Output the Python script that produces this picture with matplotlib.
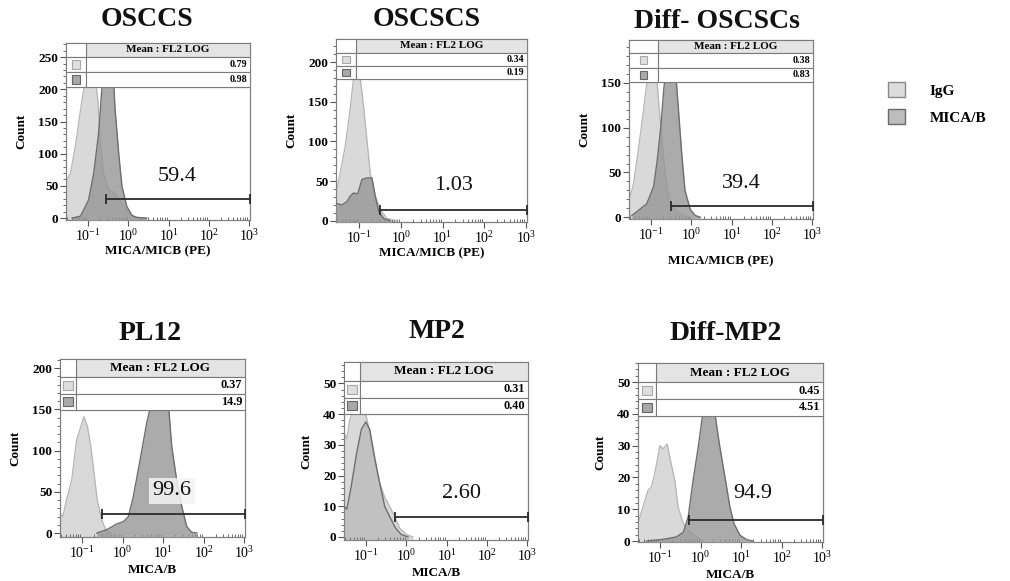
import numpy as np
import matplotlib

matplotlib.use("Agg")
import matplotlib.pyplot as plt
from matplotlib.patches import Rectangle, Patch
from matplotlib.ticker import LogLocator, LogFormatterMathtext, MultipleLocator, NullFormatter

plt.rcParams["font.family"] = ["Liberation Serif", "DejaVu Serif"]
plt.rcParams["mathtext.fontset"] = "custom"
plt.rcParams["mathtext.rm"] = "Liberation Serif:bold"
plt.rcParams["mathtext.bf"] = "Liberation Serif:bold"
plt.rcParams["mathtext.default"] = "bf"

# ---- data (x in log10 units, y = count) ----
titles = ["OSCCS", "OSCSCS", "Diff- OSCSCs", "PL12", "MP2", "Diff-MP2"]
xlabels = ["MICA/MICB (PE)"] * 3 + ["MICA/B"] * 3
mean_igg = ["0.79", "0.34", "0.38", "0.37", "0.31", "0.45"]
mean_mica = ["0.98", "0.19", "0.83", "14.9", "0.40", "4.51"]
gate_pct = ["59.4", "1.03", "39.4", "99.6", "2.60", "94.9"]
gate_start = [0.275, 0.32, 0.31, 0.30, 0.51, 0.51]
gate_level = [29.5, 14, 13, 23.4, 6.4, 6.5]

igg_log = [
    [-1.55, -1.44, -1.32, -1.19, -1.11, -1.05, -0.95, -0.82, -0.76, -0.70, -0.62, -0.49, -0.33, -0.16, 0.00, 0.17, 0.45],
    [-1.55, -1.45, -1.33, -1.21, -1.13, -1.06, -0.97, -0.89, -0.81, -0.73, -0.61, -0.49, -0.33, -0.09],
    [-1.55, -1.44, -1.32, -1.19, -1.11, -0.99, -0.85, -0.78, -0.70, -0.61, -0.53, -0.36, -0.16, -0.03],
    [-1.55, -1.48, -1.39, -1.26, -1.14, -1.06, -0.96, -0.87, -0.79, -0.71, -0.63, -0.52, -0.40, -0.27],
    [-1.55, -1.48, -1.41, -1.33, -1.20, -1.04, -0.91, -0.79, -0.66, -0.54, -0.42, -0.29, -0.17, 0.00, 0.16],
    [-1.53, -1.43, -1.30, -1.22, -1.14, -1.01, -0.93, -0.83, -0.75, -0.64, -0.56, -0.43, -0.27, -0.10, 0.06],
]
igg_count = [
    [57, 70, 111, 168, 200, 225, 260, 215, 184, 122, 70, 44, 39, 23, 8, 1, 0],
    [35, 60, 94, 141, 180, 188, 180, 144, 102, 60, 31, 14, 3, 0],
    [19, 37, 75, 119, 149, 175, 150, 112, 71, 34, 15, 6, 1, 0],
    [24, 20, 40, 65, 113, 125, 141, 129, 105, 73, 40, 16, 2, 0],
    [33.8, 32, 38, 41, 45, 42, 34, 25, 17.5, 13, 10, 6.7, 2.9, 0.8, 0],
    [6.5, 10.7, 16, 17, 21, 30, 29, 30.5, 25.5, 19, 10.7, 5.5, 2.8, 1.3, 0],
]
mica_log = [
    [-1.40, -1.19, -0.99, -0.86, -0.74, -0.66, -0.52, -0.37, -0.33, -0.24, -0.16, -0.04, 0.09, 0.21, 0.45],
    [-1.55, -1.41, -1.29, -1.21, -1.13, -1.03, -0.93, -0.81, -0.69, -0.61, -0.53, -0.41, -0.25],
    [-1.48, -1.36, -1.11, -0.94, -0.85, -0.76, -0.68, -0.56, -0.38, -0.32, -0.24, -0.16, -0.03, 0.09, 0.22],
    [-0.64, -0.40, -0.15, 0.02, 0.14, 0.26, 0.43, 0.59, 0.72, 0.88, 1.13, 1.21, 1.33, 1.46, 1.58, 1.70, 1.83],
    [-1.55, -1.48, -1.37, -1.24, -1.12, -1.01, -0.91, -0.79, -0.68, -0.54, -0.42, -0.27, -0.13, 0.04],
    [-1.34, -1.01, -0.85, -0.60, -0.43, -0.31, -0.19, -0.06, 0.05, 0.19, 0.35, 0.47, 0.60, 0.72, 0.82, 0.97, 1.14, 1.30],
]
mica_count = [
    [0, 3, 28, 70, 132, 200, 280, 215, 168, 100, 49, 18, 4, 1, 0],
    [22, 20, 24, 31, 35, 34, 52, 54, 54, 31, 12, 3, 0],
    [2, 6, 15, 34, 63, 101, 146, 180, 155, 119, 71, 30, 9, 2, 0],
    [0, 4, 11, 14, 20, 44, 89, 133, 160, 190, 155, 105, 65, 32, 8, 1, 0],
    [10, 9, 16.5, 27, 35, 37.5, 35, 26, 18.6, 10, 6.7, 2.9, 0.8, 0],
    [0, 0.4, 0.7, 1.3, 2.8, 7.6, 19, 29.7, 40, 45, 40, 29.7, 20, 10.7, 5.5, 1.8, 0.4, 0],
]

# ---- layout (pixels of the 1010x581 figure) ----
W, H = 1010, 581
# left, right, top, bottom
boxes = [(66, 250, 43, 220), (336, 527, 39, 222), (629, 813, 40, 219),
         (60, 245, 359, 537), (344, 528, 362, 540), (638, 823, 363, 542)]
ylims = [(-3, 272), (-1.5, 229), (-2, 198), (-4.8, 211), (-1, 57), (-0.3, 56)]
ystep = [50, 50, 50, 50, 10, 10]
yminor = [10, 10, 10, 10, 2, 2]
# header px, row px, swatch column px, header font, value font
tables = [(14, 15, 20, 8.0, 7.2), (14, 13, 20, 8.0, 7.2), (13, 14.5, 29, 8.0, 7.2),
          (18, 16.5, 16, 9.5, 8.8), (19, 16.5, 16, 9.5, 8.8), (19, 17, 18, 9.5, 8.8)]
title_xy = [(147, 20), (427, 20), (717, 22), (150, 333), (437, 332), (726, 333)]
label_xy = [(1.2, 65), (1.26, 45), (1.25, 38), (1.21, 51), (1.36, 14.3), (1.28, 15)]
xlabelpad = [0.5, 0.5, 9, 2, 2, 2]
mica_alpha = [0.8, 0.8, 0.8, 0.8, 0.35, 0.8]

IGG_FILL, IGG_EDGE = "#d9d9d9", "#b5b5b5"
MICA_FILL, MICA_EDGE = "#969696", "#6e6e6e"
SPINE = "#808080"
XMIN, XMAX = 10 ** -1.55, 10 ** 3.02

fig = plt.figure(figsize=(W / 100, H / 100), dpi=100)

for i in range(6):
    l, r, t, b = boxes[i]
    ax = fig.add_axes([l / W, 1 - b / H, (r - l) / W, (b - t) / H])
    axw, axh = r - l, b - t

    xi = 10 ** np.array(igg_log[i])
    xm = 10 ** np.array(mica_log[i])
    ax.fill_between(xi, igg_count[i], -10, color=IGG_FILL, lw=0, zorder=1)
    ax.plot(xi, igg_count[i], color=IGG_EDGE, lw=0.9, zorder=2)
    ax.fill_between(xm, mica_count[i], -10, color=MICA_FILL, alpha=mica_alpha[i], lw=0, zorder=3)
    ax.plot(xm, mica_count[i], color=MICA_EDGE, lw=1.0, zorder=4)

    ax.set_xscale("log")
    ax.set_xlim(XMIN, XMAX)
    ax.set_ylim(*ylims[i])
    ax.xaxis.set_major_locator(LogLocator(base=10, numticks=10))
    ax.xaxis.set_major_formatter(LogFormatterMathtext())
    ax.xaxis.set_minor_locator(LogLocator(base=10, subs=np.arange(2, 10), numticks=20))
    ax.xaxis.set_minor_formatter(NullFormatter())
    ax.yaxis.set_major_locator(MultipleLocator(ystep[i]))
    ax.yaxis.set_minor_locator(MultipleLocator(yminor[i]))
    ax.tick_params(axis="x", which="major", direction="out", length=4, width=0.8,
                   color="#555555", labelsize=10, pad=2)
    ax.tick_params(axis="x", which="minor", direction="in", length=2.5, width=0.6, color="#555555")
    ax.tick_params(axis="y", which="major", direction="out", length=4, width=0.8,
                   color="#555555", labelsize=9.5, pad=1.5)
    ax.tick_params(axis="y", which="minor", direction="out", length=2, width=0.6, color="#555555")
    for lab in ax.get_yticklabels():
        lab.set_fontweight("bold")
    for sp in ax.spines.values():
        sp.set_color(SPINE)
        sp.set_linewidth(0.9)

    ax.set_ylabel("Count", fontsize=9.5, fontweight="bold", labelpad=8)
    ax.set_xlabel(xlabels[i], fontsize=9.5, fontweight="bold", labelpad=xlabelpad[i])

    # statistics table on top of the histogram
    hh, rh, cw, fs_h, fs_v = tables[i]
    hy, ry, cx = hh / axh, rh / axh, cw / axw
    top = 1.0
    y_h = top - hy
    y_r1 = y_h - ry
    y_r2 = y_r1 - ry
    kw = dict(transform=ax.transAxes, zorder=10, lw=0.8, ec="#7a7a7a")
    ax.add_patch(Rectangle((0, y_r2), 1, top - y_r2, fc="white", **kw))
    ax.add_patch(Rectangle((cx, y_h), 1 - cx, hy, fc="#e4e4e4", **kw))
    ax.add_patch(Rectangle((0, y_h), cx, hy, fc="white", **kw))
    ax.add_patch(Rectangle((0, y_r1), cx, ry, fc="white", **kw))
    ax.add_patch(Rectangle((cx, y_r1), 1 - cx, ry, fc="white", **kw))
    ax.add_patch(Rectangle((0, y_r2), cx, ry, fc="white", **kw))
    ax.add_patch(Rectangle((cx, y_r2), 1 - cx, ry, fc="white", **kw))
    sw = 0.55 * rh
    for yy, fc, ec in [(y_r1, "#dedede", "#a8a8a8"), (y_r2, "#a9a9a9", "#666666")]:
        ax.add_patch(Rectangle((cx / 2 - sw / 2 / axw, yy + (rh - sw) / 2 / axh),
                               sw / axw, sw / axh, transform=ax.transAxes,
                               fc=fc, ec=ec, lw=0.8, zorder=11))
    ax.text((1 + cx) / 2, y_h + hy / 2, "Mean : FL2 LOG", transform=ax.transAxes,
            ha="center", va="center", fontsize=fs_h, fontweight="bold", zorder=12)
    ax.text(0.985, y_r1 + ry / 2, mean_igg[i], transform=ax.transAxes,
            ha="right", va="center", fontsize=fs_v, fontweight="bold", zorder=12)
    ax.text(0.985, y_r2 + ry / 2, mean_mica[i], transform=ax.transAxes,
            ha="right", va="center", fontsize=fs_v, fontweight="bold", zorder=12)

    # gate
    ax.plot([gate_start[i], XMAX], [gate_level[i], gate_level[i]], color="#2b2b2b",
            lw=1.3, marker="|", markersize=7, mew=1.3, zorder=6, clip_on=False)
    lx, ly = label_xy[i]
    bbox = dict(fc="#f4f4f4", ec="none", alpha=0.85, pad=2.5) if i == 3 else None
    ax.text(10 ** lx, ly, gate_pct[i], ha="center", va="center", fontsize=16,
            color="#111111", zorder=7, bbox=bbox)

    tx, ty = title_xy[i]
    fig.text(tx / W, 1 - ty / H, titles[i], ha="center", va="center",
             fontsize=20, fontweight="bold", color="#111111")

handles = [Patch(fc="#dcdcdc", ec="#8a8a8a", lw=1.0, label="IgG"),
           Patch(fc="#bdbdbd", ec="#6a6a6a", lw=1.0, label="MICA/B")]
fig.legend(handles=handles, loc="upper left", bbox_to_anchor=(874 / W, 1 - 68 / H),
           frameon=False, prop={"weight": "bold", "size": 11}, handlelength=1.15,
           handleheight=1.15, handletextpad=1.6, labelspacing=0.75)

fig.savefig("out.png", dpi=100)
